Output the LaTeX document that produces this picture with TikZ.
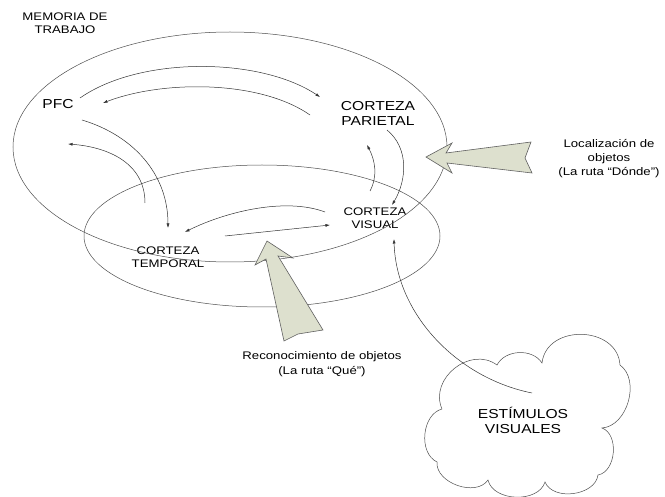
\documentclass[tikz,border=0pt]{standalone}
\usepackage{fontspec}
\setmainfont{Liberation Sans}[FakeStretch=1.2]
\usepackage{tikz}
\usetikzlibrary{arrows.meta}
\usepackage{xcolor}
\definecolor{pathfill}{RGB}{221,224,206}
\definecolor{pathline}{RGB}{95,95,95}

\begin{document}
\begin{tikzpicture}[x=1pt, y=-1pt,
    lbl/.style={inner sep=2pt, align=center, text=black},
    small/.style={lbl, font=\fontsize{11}{13.5}\selectfont},
    big/.style={lbl, font=\fontsize{13}{15}\selectfont},
    link/.style={line width=0.5pt, black!80, -{Latex[length=4.5pt,width=3pt]}},
    region/.style={line width=0.5pt, black!70},
    blockarrow/.style={line width=0.6pt, draw=pathline, fill=pathfill}]
    \useasboundingbox (0,0) rectangle (665,497);

    % Labels
    \node[small, font=\fontsize{11}{13}\selectfont] (mem) at (65,23) {MEMORIA DE\\TRABAJO};
    \node[big] (pfc) at (58,104) {PFC};
    \node[big] (par) at (378,113) {CORTEZA\\PARIETAL};
    \node[small, font=\fontsize{11}{13}\selectfont] (vis) at (375,218) {CORTEZA\\VISUAL};
    \node[small, font=\fontsize{11}{13}\selectfont] (tem) at (168,257) {CORTEZA\\TEMPORAL};
    \node[small, font=\fontsize{11}{14}\selectfont] (loc) at (609,159) {Localización de\\objetos\\(La ruta “Dónde”)};
    \node[small, font=\fontsize{11}{15}\selectfont] (que) at (322,364) {Reconocimiento de objetos\\(La ruta “Qué”)};
    \node[big] (stim) at (523,420) {ESTÍMULOS\\VISUALES};

    % Regions
    \draw[region] (230,147) ellipse [x radius=217, y radius=115];
    \draw[region] (262,236) ellipse [x radius=178, y radius=71];

    % Cloud round the stimuli
    \draw[region] (442,409) to[bend left=75, looseness=1.2] (497,365)
        to[bend left=60] (542,363)
        to[bend left=85, looseness=1.3] (620,365)
        to[bend left=70] (602,428)
        to[bend left=75] (598,475)
        to[bend left=75] (545,482)
        to[bend left=75] (488,480)
        to[bend left=75] (437,462)
        to[bend left=70] (442,409);

    % PFC <-> parietal
    \draw[link] ([shift={(22,-6)}]pfc.center) .. controls +(60,-42) and +(-60,-40) .. ([shift={(-58,-16)}]par.center);
    \draw[link] ([shift={(-68,2)}]par.center) .. controls +(-50,-35) and +(60,-23) .. ([shift={(45,-1)}]pfc.center);

    % PFC <-> temporal
    \draw[link] ([shift={(24,16)}]pfc.center) .. controls +(50,15) and +(0,-55) .. ([shift={(0,-29)}]tem.center);
    \draw[link] ([shift={(-23,-54)}]tem.center) .. controls +(0,-40) and +(40,3) .. ([shift={(10,40)}]pfc.center);

    % Parietal <-> visual
    \draw[link] ([shift={(9,17)}]par.center) .. controls +(22,18) and +(15,-25) .. ([shift={(17,-13)}]vis.center);
    \draw[link] ([shift={(-5,-27)}]vis.center) .. controls +(8,-15) and +(8,15) .. ([shift={(-11,32)}]par.center);

    % Visual <-> temporal
    \draw[link] ([shift={(-50,-6)}]vis.center) .. controls +(-40,-15) and +(40,-20) .. ([shift={(17,-25)}]tem.center);
    \draw[link] ([shift={(57,-21)}]tem.center) -- ([shift={(-45,7)}]vis.center);

    % Stimuli -> visual
    \draw[link] ([shift={(9,-27)}]stim.center) .. controls +(-75,-15) and +(2,75) .. ([shift={(19,21)}]vis.center);

    % Block arrows
    \filldraw[blockarrow] (426,157) -- (452,143) -- (446,153) -- (531,142) -- (525,158)
        -- (532,173) -- (447,163) -- (452,173) -- cycle;
    \filldraw[blockarrow] (267,241) -- (293,258) -- (278,256) -- (323,330) -- (298,334)
        -- (284,341) -- (266,259) -- (255,265) -- cycle;
\end{tikzpicture}
\end{document}
